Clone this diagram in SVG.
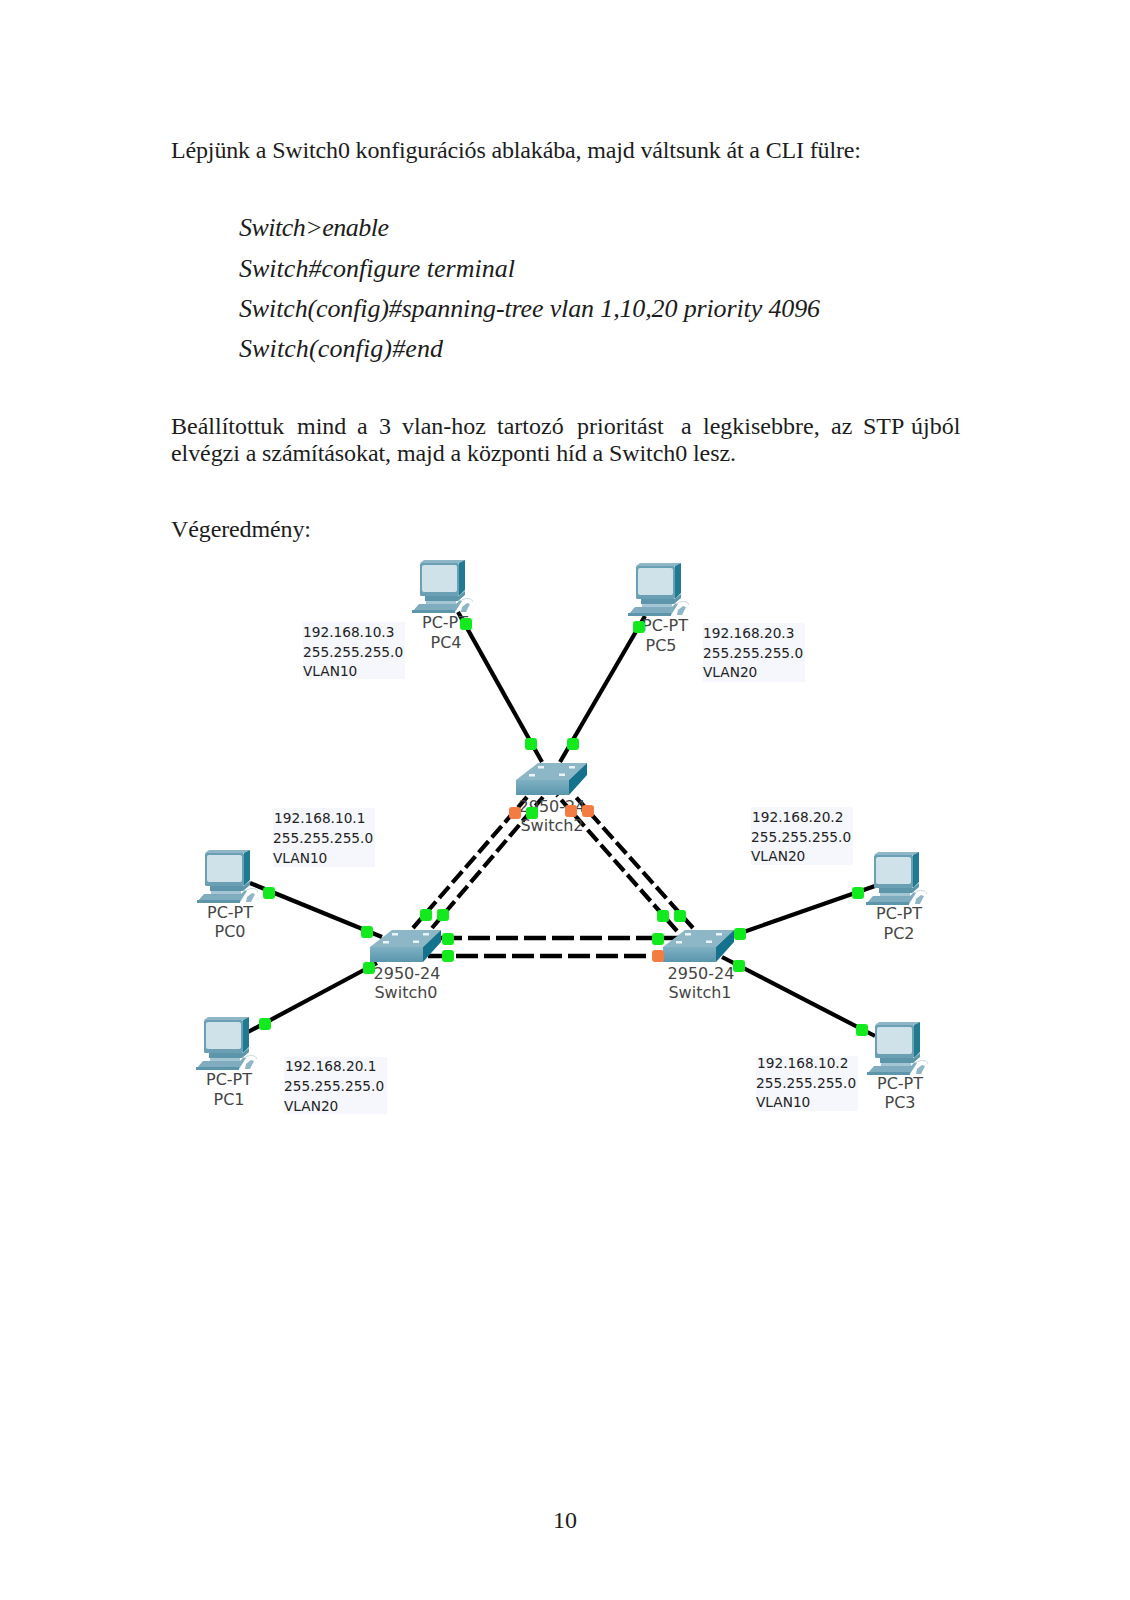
<svg xmlns="http://www.w3.org/2000/svg" width="1130" height="1600" viewBox="0 0 1130 1600">
<style>
.b{font-family:"Liberation Serif","Times New Roman",serif;font-size:24px;fill:#1c1c1c}
.c{font-style:italic;font-size:26px}
.l{font-family:"DejaVu Sans",Verdana,sans-serif;font-size:16px;fill:#454545;text-anchor:middle}
.i{font-family:"DejaVu Sans",Verdana,sans-serif;font-size:13.7px;fill:#222}
.bx{fill:#f5f7fc}
.s{stroke:#000;stroke-width:4.2;fill:none}
.d{stroke:#000;stroke-width:4.2;fill:none;stroke-dasharray:15 5}
.h{stroke:#000;stroke-width:4.4;fill:none;stroke-dasharray:22 6}
.g{fill:#12ea1e}
.o{fill:#f27c42}
</style>
<defs>
<linearGradient id="fr" x1="0" y1="0" x2="0" y2="1"><stop offset="0" stop-color="#7fb0c2"/><stop offset="1" stop-color="#5a96ad"/></linearGradient>
<g id="pc">
<polygon points="8,3 12,0 53,0 47,3" fill="#8fb6c6"/>
<polygon points="47,3 53,0 53,30 47,36" fill="#1f7a92"/>
<rect x="8" y="3" width="39" height="33" rx="1.5" fill="#6b9fb3"/>
<rect x="10" y="5" width="35" height="27" rx="2" fill="#cfe2ea"/>
<polygon points="13,36 47,36 53,31 53,35 46,41 13,41" fill="#5d96ab"/>
<polygon points="14,41 44,41 44,44 14,44" fill="#a4c6d3"/>
<polygon points="7,44 44,44 48,40 50,41 43,52 0,52" fill="#7fadbf"/>
<polygon points="0,50 43,50 43,53 0,53" fill="#5d96ab"/>
<path d="M48,41 C54,37 60,38 61,42" fill="none" stroke="#c5d8df" stroke-width="1"/>
<polygon points="50,47 55,43 58,44 54,52 49,52" fill="#8fb6c6"/>
</g>
<g id="sw">
<polygon points="0,17 22,0 71,0 53,17" fill="#8db6c6"/>
<polygon points="53,17 71,0 71,12 53,32" fill="#14728c"/>
<rect x="0" y="17" width="53" height="15" fill="url(#fr)"/>
<g fill="#eaf3f6"><rect x="22" y="3" width="6" height="2.500"/><rect x="53" y="3" width="6" height="2.500"/><rect x="13" y="11" width="6" height="2.500"/><rect x="43" y="10.500" width="6" height="2.500"/></g>
</g>
</defs>

<g id="page-text">
<text class="b" x="171" y="158" textLength="690">Lépjünk a Switch0 konfigurációs ablakába, majd váltsunk át a CLI fülre:</text>
<text class="b c" x="239" y="236" textLength="150">Switch&gt;enable</text>
<text class="b c" x="239" y="277" textLength="276">Switch#configure terminal</text>
<text class="b c" x="239" y="317" textLength="581">Switch(config)#spanning-tree vlan 1,10,20 priority 4096</text>
<text class="b c" x="239" y="357" textLength="204">Switch(config)#end</text>
<text class="b" y="434"><tspan x="171">Beállítottuk</tspan> <tspan x="297">mind</tspan> <tspan x="357">a</tspan> <tspan x="379">3</tspan> <tspan x="402">vlan-hoz</tspan> <tspan x="497">tartozó</tspan> <tspan x="577">prioritást</tspan> <tspan x="681">a</tspan> <tspan x="703">legkisebbre,</tspan> <tspan x="831">az</tspan> <tspan x="863">STP</tspan> <tspan x="911">újból</tspan></text>
<text class="b" x="171" y="461" textLength="565">elvégzi a számításokat, majd a központi híd a Switch0 lesz.</text>
<text class="b" x="171" y="537" textLength="140">Végeredmény:</text>
<text class="b" x="565" y="1528" text-anchor="middle">10</text>
</g>

<g id="info-boxes">
<g id="info-pc4"><rect class="bx" x="303" y="622" width="102" height="57"/><text class="i" x="303" y="637">192.168.10.3</text><text class="i" x="303" y="657">255.255.255.0</text><text class="i" x="303" y="676">VLAN10</text></g>
<g id="info-pc5"><rect class="bx" x="703" y="623" width="102" height="59"/><text class="i" x="703" y="638">192.168.20.3</text><text class="i" x="703" y="658">255.255.255.0</text><text class="i" x="703" y="677">VLAN20</text></g>
<g id="info-pc0"><rect class="bx" x="273" y="808" width="102" height="59"/><text class="i" x="274" y="823">192.168.10.1</text><text class="i" x="273" y="843">255.255.255.0</text><text class="i" x="273" y="863">VLAN10</text></g>
<g id="info-pc2"><rect class="bx" x="751" y="807" width="102" height="58"/><text class="i" x="752" y="822">192.168.20.2</text><text class="i" x="751" y="842">255.255.255.0</text><text class="i" x="751" y="861">VLAN20</text></g>
<g id="info-pc1"><rect class="bx" x="284" y="1057" width="103" height="57"/><text class="i" x="285" y="1071">192.168.20.1</text><text class="i" x="284" y="1091">255.255.255.0</text><text class="i" x="284" y="1111">VLAN20</text></g>
<g id="info-pc3"><rect class="bx" x="756" y="1056" width="102" height="55"/><text class="i" x="757" y="1068">192.168.10.2</text><text class="i" x="756" y="1088">255.255.255.0</text><text class="i" x="756" y="1107">VLAN10</text></g>
</g>

<g id="connectors">
<line class="s" x1="458" y1="612" x2="542" y2="762"/>
<line class="s" x1="645" y1="616" x2="560" y2="762"/>
<line class="s" x1="250" y1="883" x2="382" y2="937"/>
<line class="s" x1="248" y1="1032" x2="377" y2="963"/>
<line class="s" x1="875" y1="886" x2="735" y2="935"/>
<line class="s" x1="875" y1="1036" x2="722" y2="957"/>
<line class="d" x1="413" y1="928" x2="527" y2="797"/>
<line class="d" x1="432" y1="928" x2="543" y2="797"/>
<line class="d" x1="693" y1="928" x2="574" y2="795"/>
<line class="d" x1="677" y1="931" x2="557" y2="795"/>
<line class="h" x1="440" y1="938" x2="680" y2="938"/>
<line class="h" x1="428" y1="956" x2="663" y2="956"/>
</g>

<g id="PC4"><use href="#pc" x="412" y="560"/><text class="l" x="445" y="628">PC-PT</text><text class="l" x="446" y="648">PC4</text></g>
<g id="PC5"><use href="#pc" x="628" y="563"/><text class="l" x="665" y="631">PC-PT</text><text class="l" x="661" y="651">PC5</text></g>
<g id="PC0"><use href="#pc" x="197" y="850"/><text class="l" x="230" y="918">PC-PT</text><text class="l" x="230" y="937">PC0</text></g>
<g id="PC1"><use href="#pc" x="196" y="1017"/><text class="l" x="229" y="1085">PC-PT</text><text class="l" x="229" y="1105">PC1</text></g>
<g id="PC2"><use href="#pc" x="866" y="852"/><text class="l" x="899" y="919">PC-PT</text><text class="l" x="899" y="939">PC2</text></g>
<g id="PC3"><use href="#pc" x="867" y="1022"/><text class="l" x="900" y="1089">PC-PT</text><text class="l" x="900" y="1108">PC3</text></g>
<g id="Switch0"><use href="#sw" x="370" y="930"/><text class="l" x="407" y="979">2950-24</text><text class="l" x="406" y="998">Switch0</text></g>
<g id="Switch1"><use href="#sw" x="663" y="930"/><text class="l" x="701" y="979">2950-24</text><text class="l" x="700" y="998">Switch1</text></g>
<g id="Switch2"><use href="#sw" x="516" y="763"/><text class="l" x="552" y="812">2950-24</text><text class="l" x="552" y="831">Switch2</text></g>

<g id="link-lights">
<rect class="g" x="460" y="618" width="12" height="12" rx="3"/>
<rect class="g" x="525" y="738" width="12" height="12" rx="3"/>
<rect class="g" x="633" y="621" width="12" height="12" rx="3"/>
<rect class="g" x="567" y="738" width="12" height="12" rx="3"/>
<rect class="g" x="263" y="887" width="12" height="12" rx="3"/>
<rect class="g" x="361" y="926" width="12" height="12" rx="3"/>
<rect class="g" x="259" y="1018" width="12" height="12" rx="3"/>
<rect class="g" x="363" y="962" width="12" height="12" rx="3"/>
<rect class="g" x="852" y="887" width="12" height="12" rx="3"/>
<rect class="g" x="734" y="928" width="12" height="12" rx="3"/>
<rect class="g" x="856" y="1024" width="12" height="12" rx="3"/>
<rect class="g" x="733" y="960" width="12" height="12" rx="3"/>
<rect class="g" x="420" y="909" width="12" height="12" rx="3"/>
<rect class="g" x="437" y="909" width="12" height="12" rx="3"/>
<rect class="g" x="526" y="807" width="12" height="12" rx="3"/>
<rect class="o" x="509" y="807" width="12" height="12" rx="3"/>
<rect class="o" x="565" y="805" width="12" height="12" rx="3"/>
<rect class="o" x="582" y="805" width="12" height="12" rx="3"/>
<rect class="g" x="657" y="910" width="12" height="12" rx="3"/>
<rect class="g" x="674" y="910" width="12" height="12" rx="3"/>
<rect class="g" x="442" y="933" width="12" height="12" rx="3"/>
<rect class="g" x="442" y="950" width="12" height="12" rx="3"/>
<rect class="g" x="652" y="933" width="12" height="12" rx="3"/>
<rect class="o" x="652" y="950" width="12" height="12" rx="3"/>
</g>
</svg>
